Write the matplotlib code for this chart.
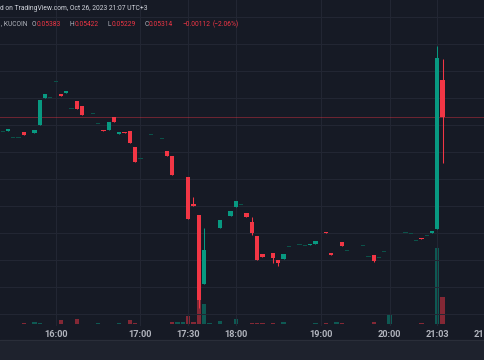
import numpy as np
import matplotlib.pyplot as plt
from matplotlib.patches import Rectangle

nan = np.nan

# 3-minute bars, KUCOIN pair, 26 Oct 2023 (two empty slots kept as nan)
opens = [0.05286, 0.05288, 0.05275, 0.05275, 0.05287, 0.05282, 0.05285, 0.05299, 0.05349, 0.05350,
         0.05379, 0.05357, 0.05359, 0.05329, 0.05344, 0.05334, nan, 0.05320, 0.05301, 0.05289,
         0.05290, 0.05314, 0.05282, 0.05287, 0.05288, 0.05258, 0.05237, 0.05265, 0.05281, 0.05276,
         0.05273, 0.05251, 0.05242, 0.05206, 0.05215, 0.05203, 0.05152, 0.05132, 0.05005, 0.05076,
         0.05080, 0.05108, nan, 0.05131, 0.05148, 0.05151, 0.05136, 0.05119, 0.05093, 0.05060,
         0.05071, 0.05063, 0.05050, 0.05051, 0.05073, 0.05056, 0.05077, 0.05075, 0.05076, 0.05078,
         0.05076, 0.05101, 0.05062, 0.05076, 0.05082, 0.05066, 0.05078, 0.05089, 0.05075, 0.05055,
         0.05059, 0.05053, 0.05064, 0.05045, 0.05067, 0.05091, 0.05099, 0.05097, 0.05085, 0.05090,
         0.05094, 0.05100, 0.05106, 0.05383]
closes = [0.05286, 0.05292, 0.05275, 0.05275, 0.05281, 0.05282, 0.05290, 0.05345, 0.05356, 0.05350,
          0.05379, 0.05353, 0.05362, 0.05329, 0.05329, 0.05318, nan, 0.05320, 0.05301, 0.05288,
          0.05304, 0.05304, 0.05286, 0.05284, 0.05265, 0.05230, 0.05237, 0.05265, 0.05281, 0.05276,
          0.05273, 0.05242, 0.05206, 0.05206, 0.05215, 0.05125, 0.05150, 0.04975, 0.05068, 0.05076,
          0.05080, 0.05123, nan, 0.05140, 0.05158, 0.05151, 0.05129, 0.05100, 0.05050, 0.05055,
          0.05071, 0.05053, 0.05043, 0.05060, 0.05073, 0.05056, 0.05077, 0.05075, 0.05078, 0.05085,
          0.05076, 0.05099, 0.05058, 0.05076, 0.05075, 0.05066, 0.05078, 0.05089, 0.05075, 0.05055,
          0.05048, 0.05053, 0.05064, 0.05045, 0.05067, 0.05091, 0.05099, 0.05097, 0.05085, 0.05088,
          0.05094, 0.05103, 0.05424, 0.05314]
highs = [0.05286, 0.05292, 0.05275, 0.05275, 0.05287, 0.05282, 0.05290, 0.05345, 0.05356, 0.05350,
         0.05379, 0.05357, 0.05362, 0.05329, 0.05344, 0.05334, nan, 0.05320, 0.05301, 0.05289,
         0.05304, 0.05314, 0.05286, 0.05287, 0.05288, 0.05258, 0.05237, 0.05265, 0.05281, 0.05276,
         0.05273, 0.05251, 0.05242, 0.05206, 0.05215, 0.05203, 0.05166, 0.05132, 0.05109, 0.05076,
         0.05080, 0.05123, nan, 0.05140, 0.05158, 0.05151, 0.05136, 0.05129, 0.05093, 0.05060,
         0.05071, 0.05063, 0.05050, 0.05060, 0.05073, 0.05056, 0.05077, 0.05075, 0.05078, 0.05085,
         0.05076, 0.05101, 0.05062, 0.05076, 0.05082, 0.05066, 0.05078, 0.05089, 0.05075, 0.05055,
         0.05059, 0.05053, 0.05064, 0.05045, 0.05067, 0.05091, 0.05099, 0.05097, 0.05085, 0.05090,
         0.05094, 0.05103, 0.05445, 0.05422]
lows = [0.05286, 0.05288, 0.05275, 0.05275, 0.05281, 0.05282, 0.05285, 0.05299, 0.05349, 0.05350,
        0.05379, 0.05353, 0.05359, 0.05329, 0.05329, 0.05318, nan, 0.05320, 0.05301, 0.05288,
        0.05290, 0.05304, 0.05282, 0.05284, 0.05265, 0.05230, 0.05237, 0.05265, 0.05281, 0.05276,
        0.05273, 0.05242, 0.05206, 0.05206, 0.05215, 0.05125, 0.05150, 0.04960, 0.05005, 0.05076,
        0.05080, 0.05108, nan, 0.05131, 0.05148, 0.05151, 0.05129, 0.05095, 0.05050, 0.05055,
        0.05071, 0.05044, 0.05038, 0.05051, 0.05073, 0.05056, 0.05077, 0.05075, 0.05076, 0.05078,
        0.05076, 0.05099, 0.05058, 0.05076, 0.05075, 0.05066, 0.05078, 0.05089, 0.05075, 0.05055,
        0.05045, 0.05053, 0.05064, 0.05045, 0.05067, 0.05091, 0.05099, 0.05097, 0.05085, 0.05088,
        0.05094, 0.05100, 0.05106, 0.05229]
# volume, thousands
volumes = [0.4, 0.4, 0.4, 0.4, 1.0, 0.4, 2.0, 1.0, 0.4, 0.4,
           0.4, 3.7, 0.4, 0.4, 4.7, 0.4, nan, 0.4, 1.0, 0.4,
           0.4, 0.4, 1.3, 0.4, 3.7, 1.0, 0.4, 0.4, 0.4, 0.4,
           0.4, 0.4, 2.0, 2.0, 2.0, 8.3, 1.7, 37.0, 20.5, 0.7,
           0.4, 3.0, nan, 0.4, 5.0, 0.4, 0.4, 1.0, 1.0, 1.0,
           0.4, 0.7, 0.4, 1.7, 0.4, 0.4, 0.4, 0.4, 0.4, 1.3,
           0.4, 0.7, 0.4, 2.0, 0.7, 0.4, 0.4, 0.4, 0.4, 0.4,
           2.0, 0.4, 0.4, 9.0, 0.4, 0.4, 0.4, 0.4, 0.4, 0.7,
           0.4, 0.4, 76.5, 26.7]

tick_pos = [10, 26, 35, 44, 60, 73, 82, 91]
tick_labels = ["16:00", "17:00", "17:30", "18:00", "19:00", "20:00", "21:03", "21:30"]

last_close = 0.05314

bg = '#161a25'
up = '#089981'
down = '#f23645'
txt = '#b2b5be'
fonts = ['Roboto', 'DejaVu Sans']

o = np.array(opens)
c = np.array(closes)
h = np.array(highs)
l = np.array(lows)
v = np.array(volumes)
x = np.arange(len(o))

fig = plt.figure(figsize=(4.85, 3.6), dpi=100, facecolor=bg)
vax = fig.add_axes([0, 34 / 360, 1, 326 / 360])
ax = fig.add_axes([0, 34 / 360, 1, 326 / 360], sharex=vax)
ax.patch.set_visible(False)
vax.set_facecolor(bg)

ax.set_xlim(-2.7 / 5.35, (485 - 2.7) / 5.35)
ax.set_ylim(0.049269, 0.055306)
vax.set_ylim(-2, 324)

# grid
ax.set_yticks(np.arange(0.0495, 0.0551, 0.0005))
ax.set_xticks(tick_pos, tick_labels)
ax.grid(color='#232734', lw=0.7)
ax.tick_params(axis='y', left=False, labelleft=False)
ax.tick_params(axis='x', length=0, pad=2.6, colors=txt, labelsize=6.6)
for lab in ax.get_xticklabels():
    lab.set_family(fonts)
    lab.set_fontweight('bold')
vax.tick_params(left=False, labelleft=False, right=False, labelright=False,
                bottom=False, labelbottom=False)
for a in (ax, vax):
    for s in a.spines.values():
        s.set_visible(False)

# volume
vcol = [up if cc >= oo else down for oo, cc in zip(o, c)]
vax.bar(x, v, width=0.8, color=vcol, alpha=0.5, linewidth=0)

# candles
doji = o == c
ccol = [up if cc > oo else down for oo, cc in zip(o, c)]
ccol = ['#0b5249' if d else col for d, col in zip(doji, ccol)]
bot = np.minimum(o, c)
hgt = np.maximum(np.abs(c - o), 0.000012)
ax.vlines(x, l, h, colors=ccol, lw=0.75, zorder=3)
ax.bar(x, hgt, bottom=bot, width=0.8, color=ccol, linewidth=0, zorder=4)

# last price line
ax.axhline(last_close, color=down, alpha=0.4, lw=0.7, zorder=2)

# bottom toolbar strip
fig.add_artist(Rectangle((0, 0), 1, 20 / 360, transform=fig.transFigure,
                         color='#1e222d', zorder=0))
fig.add_artist(plt.Line2D([0, 1], [20 / 360, 20 / 360], transform=fig.transFigure,
                          color='#2a2e39', lw=0.8))

# header
fig.text(0, 1 - 8 / 360, "d on TradingView.com, Oct 26, 2023 21:07 UTC+3",
         color='#d1d4dc', fontsize=4.9, family=fonts, va='center')

parts = [(", KUCOIN", txt, 4), ("O", txt, 0.3), ("0.05383", down, 9),
         ("H", txt, 0.3), ("0.05422", down, 9), ("L", txt, 0.3), ("0.05229", down, 9),
         ("C", txt, 0.3), ("0.05314", down, 9), ("\u22120.00112", down, 2.5),
         ("(\u22122.06%)", down, 0)]
renderer = fig.canvas.get_renderer()
xcur = 1
for s, col, gap in parts:
    t = fig.text(xcur / 485, 1 - 24 / 360, s, color=col, fontsize=4.8,
                 family=fonts, va='center')
    xcur = t.get_window_extent(renderer).x1 + gap

fig.savefig('out.png', dpi=100, facecolor=bg)
